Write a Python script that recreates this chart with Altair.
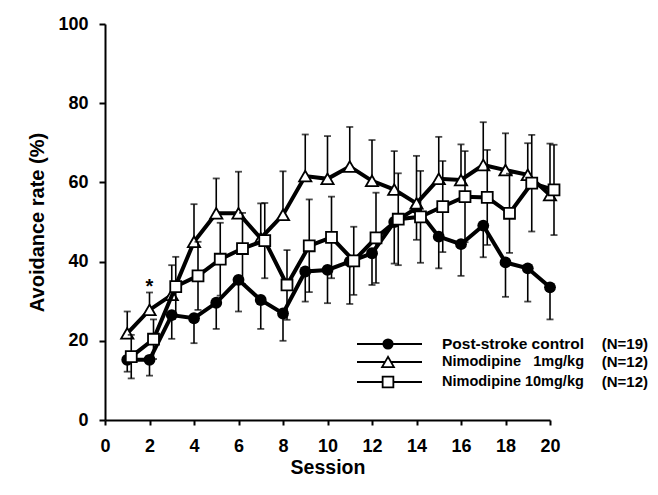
import altair as alt
import pandas as pd

# ---- data ----
sessions = list(range(1, 21))
control_mean = [15.2, 15.2, 26.5, 25.7, 29.6, 35.4, 30.3, 26.9, 37.5, 37.9,
                40.0, 42.1, 50.0, 53.5, 46.3, 44.4, 49.1, 39.8, 38.3, 33.5]
control_sem = [3.0, 4.0, 6.0, 6.3, 6.6, 8.0, 7.3, 6.9, 7.6, 8.4,
               10.7, 8.0, 10.5, 8.0, 8.0, 8.0, 8.0, 8.7, 8.4, 8.1]
nimo1_mean = [21.9, 27.8, 31.6, 45.0, 52.2, 52.2, 45.9, 51.8, 61.6, 60.9,
              64.0, 60.4, 58.2, 54.7, 60.9, 60.6, 64.4, 63.1, 61.9, 56.8]
nimo1_sem = [5.5, 4.4, 7.5, 9.5, 8.8, 10.5, 8.8, 11.0, 10.5, 10.8,
             10.0, 10.3, 9.7, 12.0, 10.6, 9.0, 10.8, 9.3, 8.0, 13.0]
nimo10_mean = [16.0, 20.4, 33.7, 36.4, 40.6, 43.3, 45.3, 34.1, 44.0, 46.1,
               40.2, 46.0, 50.7, 51.3, 53.9, 56.4, 56.2, 52.2, 59.8, 58.1]
nimo10_sem = [5.5, 5.0, 7.5, 8.6, 9.2, 9.0, 9.5, 8.8, 11.7, 10.3,
              8.6, 11.4, 11.6, 11.6, 11.5, 11.5, 12.0, 10.0, 12.2, 11.4]

x_ticks = list(range(0, 21))
y_ticks = list(range(0, 101, 10))

star_session = [2]
star_value = [34.5]
star_text = ["*"]

legend_names = ["Post-stroke control", "Nimodipine", "Nimodipine 10mg/kg"]
legend_doses = ["", "1mg/kg", ""]
legend_ns = ["(N=19)", "(N=12)", "(N=12)"]
legend_shapes = ["circle", "triangle-up", "square"]

FONT = "Liberation Sans"


def frame(mean, sem, lo_k, hi_k):
    df = pd.DataFrame({"session": sessions, "mean": mean, "sem": sem})
    df["lo"] = df["mean"] - lo_k * df["sem"]
    df["hi"] = df["mean"] + hi_k * df["sem"]
    return df


ctrl = frame(control_mean, control_sem, 1, 0)
n1 = frame(nimo1_mean, nimo1_sem, 0, 1)
n10 = frame(nimo10_mean, nimo10_sem, 1, 1)

xaxis = alt.Axis(
    values=x_ticks,
    labelExpr="datum.value % 2 === 0 ? datum.label : ''",
    tickSize=5, tickWidth=2, tickColor="black",
    domainWidth=2, domainColor="black",
    labelFont=FONT, labelFontSize=18, labelFontWeight="bold", labelColor="black",
    labelPadding=12, labelFlush=False, labelOverlap=False, grid=False,
    title="Session", titleFont=FONT, titleFontSize=19.5, titleFontWeight="bold",
    titleColor="black", titlePadding=3,
)
yaxis = alt.Axis(
    values=y_ticks,
    labelExpr="datum.value % 20 === 0 ? datum.label : ''",
    tickSize=6, tickWidth=2, tickColor="black",
    domainWidth=2, domainColor="black",
    labelFont=FONT, labelFontSize=18, labelFontWeight="bold", labelColor="black",
    labelPadding=11, labelOverlap=False, grid=False,
    title="Avoidance rate (%)", titleFont=FONT, titleFontSize=20,
    titleFontWeight="bold", titleColor="black", titlePadding=10,
)

X = alt.X("session:Q", scale=alt.Scale(domain=[0, 20], nice=False), axis=xaxis)
Y = alt.Y("mean:Q", scale=alt.Scale(domain=[0, 100], nice=False), axis=yaxis)


def series(df, shape, filled, size, off, caps):
    base = alt.Chart(df)
    layers = [
        base.mark_rule(color="black", strokeWidth=1.6, xOffset=off).encode(
            x=alt.X("session:Q"), y=alt.Y("lo:Q"), y2="hi:Q")
    ]
    for c in caps:
        layers.append(
            base.mark_tick(color="black", orient="horizontal", size=7,
                           thickness=1.8, xOffset=off).encode(
                x=alt.X("session:Q"), y=alt.Y(f"{c}:Q"))
        )
    layers.append(
        base.mark_line(color="black", strokeWidth=4, xOffset=off).encode(x=X, y=Y)
    )
    if filled:
        pt = base.mark_point(shape=shape, filled=True, color="black", size=size,
                             opacity=1, xOffset=off)
    else:
        pt = base.mark_point(shape=shape, filled=True, fill="white", stroke="black",
                             strokeWidth=1.8, size=size, opacity=1, xOffset=off)
    layers.append(pt.encode(x=X, y=Y))
    return layers


layers = []
layers += series(ctrl, "circle", True, 140, 0, ["lo"])
layers += series(n1, "triangle-up", False, 150, 0, ["hi"])
layers += series(n10, "square", False, 120, 4, ["lo", "hi"])

star_df = pd.DataFrame({"session": star_session, "value": star_value, "t": star_text})
layers.append(
    alt.Chart(star_df).mark_text(font=FONT, fontSize=20, fontWeight="bold",
                                 color="black", baseline="middle", dy=4).encode(
        x=alt.X("session:Q"), y=alt.Y("value:Q"), text="t:N")
)

# ---- custom legend (pixel positions inside the plot area) ----
leg_rows_y = [320, 338, 358]
leg_name_size = [15.5, 14.5, 14.5]
for i in range(3):
    ldf = pd.DataFrame({"name": [legend_names[i]], "dose": [legend_doses[i]],
                        "n": [legend_ns[i]]})
    lb = alt.Chart(ldf)
    yy = leg_rows_y[i]
    layers.append(lb.mark_rule(color="black", strokeWidth=2).encode(
        x=alt.value(252), x2=alt.value(317), y=alt.value(yy)))
    if i == 0:
        sym = lb.mark_point(shape="circle", filled=True, color="black", size=125, opacity=1)
    else:
        sym = lb.mark_point(shape=legend_shapes[i], filled=True, fill="white",
                            stroke="black", strokeWidth=1.8,
                            size=140 if i == 1 else 115, opacity=1)
    layers.append(sym.encode(x=alt.value(283), y=alt.value(yy)))
    layers.append(lb.mark_text(font=FONT, fontSize=leg_name_size[i], fontWeight="bold",
                               color="black", align="left", baseline="middle").encode(
        x=alt.value(337), y=alt.value(yy), text="name:N"))
    if legend_doses[i]:
        layers.append(lb.mark_text(font=FONT, fontSize=14.5, fontWeight="bold",
                                   color="black", align="right",
                                   baseline="middle").encode(
            x=alt.value(479), y=alt.value(yy), text="dose:N"))
    layers.append(lb.mark_text(font=FONT, fontSize=15, fontWeight="bold", color="black",
                               align="right", baseline="middle").encode(
        x=alt.value(543), y=alt.value(yy), text="n:N"))

chart = alt.layer(*layers).properties(
    width=445, height=396,
    autosize=alt.AutoSizeParams(type="none"),
    padding={"left": 97, "top": 16, "right": 100, "bottom": 63},
    background="white",
).configure_view(strokeWidth=0)

chart.save("out.html", embed_options={"renderer": "svg", "actions": False})
